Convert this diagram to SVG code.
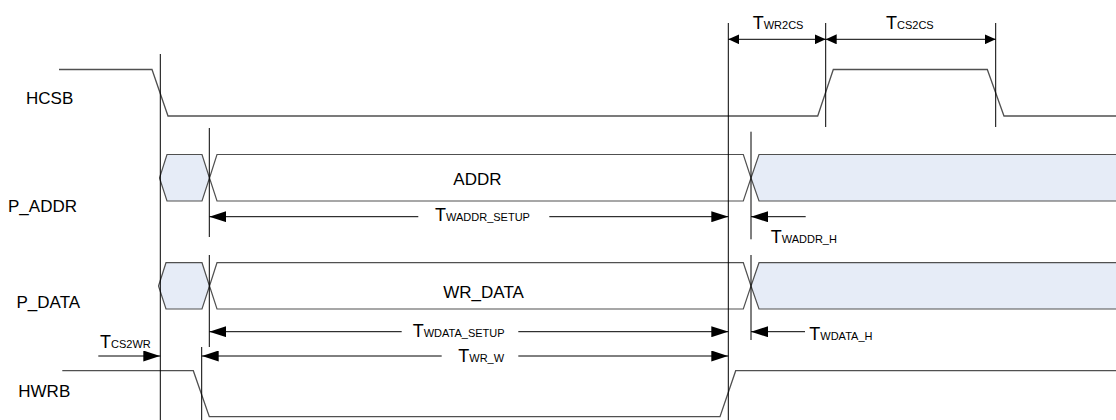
<svg xmlns="http://www.w3.org/2000/svg" width="1116" height="420" viewBox="0 0 1116 420">
<defs>
<style>
.sig{fill:none;stroke:#505050;stroke-width:1.3}
.bus{fill:#fff;stroke:#505050;stroke-width:1.2}
.busb{fill:#E6ECF7;stroke:#505050;stroke-width:1.2}
.vl{stroke:#000;stroke-width:1;fill:none}
.ar{stroke:#000;stroke-width:1;fill:none}
.lbl{font-family:"Liberation Sans",Arial,sans-serif;font-size:17px;fill:#000}
.t{font-family:"Liberation Sans",Arial,sans-serif;font-size:18px;fill:#000}
.s{font-size:11px}
</style>
<marker id="ae" markerUnits="userSpaceOnUse" markerWidth="17" markerHeight="11" refX="17" refY="5.5" orient="auto"><path d="M0,0L17,5.5L0,11z" fill="#000"/></marker>
<marker id="as" markerUnits="userSpaceOnUse" markerWidth="17" markerHeight="11" refX="17" refY="5.5" orient="auto-start-reverse"><path d="M0,0L17,5.5L0,11z" fill="#000"/></marker>
<marker id="te" markerUnits="userSpaceOnUse" markerWidth="11" markerHeight="10" refX="11" refY="5" orient="auto"><path d="M0,0L11,5L0,10z" fill="#000"/></marker>
<marker id="ts" markerUnits="userSpaceOnUse" markerWidth="11" markerHeight="10" refX="11" refY="5" orient="auto-start-reverse"><path d="M0,0L11,5L0,10z" fill="#000"/></marker>
</defs>
<rect width="1116" height="420" fill="#fff"/>

<g id="HCSB">
<text class="lbl" x="26" y="104">HCSB</text>
<path class="sig" d="M59,69.5H152L168,116H817.7L833.3,69.5H987.3L1004,116H1116"/>
</g>

<g id="P_ADDR">
<text class="lbl" x="8" y="212">P_ADDR</text>
<path class="busb" d="M159.5,178L167,154.5H202L209.5,178L202,201H167Z"/>
<path class="bus" d="M209.5,178L217,154.5H743.3L751,178L743.3,201H217Z"/>
<path class="busb" d="M1117,154.5H759L751,178L759,201H1117"/>
<text class="lbl" x="453.3" y="185">ADDR</text>
</g>

<g id="P_DATA">
<text class="lbl" x="16.5" y="307.5">P_DATA</text>
<path class="busb" d="M158.5,286L166,262.7H202L209.5,286L202,309H166Z"/>
<path class="bus" d="M209.5,286L217,262.7H743.3L751,286L743.3,309H217Z"/>
<path class="busb" d="M1117,262.7H759L751,286L759,309H1117"/>
<text class="lbl" x="443.3" y="297.7">WR_DATA</text>
</g>

<g id="HWRB">
<text class="lbl" x="18.3" y="397.3">HWRB</text>
<path class="sig" d="M62.3,370.7H193.3L209.3,416.7H720L735.7,370.7H1116"/>
</g>

<g id="connectors">
<path class="vl" d="M160.3,54V420"/>
<path class="vl" d="M728.3,23V420"/>
<path class="vl" d="M825.7,23V127"/>
<path class="vl" d="M995.7,23V127"/>
<path class="vl" d="M209.3,128V237"/>
<path class="vl" d="M209.3,255V347"/>
<path class="vl" d="M201.7,347V420"/>
<path class="vl" d="M751,131.7V239.3"/>
<path class="vl" d="M751,255V340"/>

<path class="ar" d="M728.3,39.3H825.7" marker-start="url(#ts)" marker-end="url(#te)"/>
<path class="ar" d="M825.7,39.3H995.7" marker-start="url(#ts)" marker-end="url(#te)"/>
<text class="t" x="752.7" y="29.3">T<tspan class="s">WR2CS</tspan></text>
<text class="t" x="886" y="29.3">T<tspan class="s">CS2CS</tspan></text>

<path class="ar" d="M209.3,216.7H418.3" marker-start="url(#as)"/>
<path class="ar" d="M549.3,216.7H728.3" marker-end="url(#ae)"/>
<text class="t" x="435" y="220.7">T<tspan class="s">WADDR_SETUP</tspan></text>

<path class="ar" d="M805.7,216.7H751" marker-end="url(#ae)"/>
<text class="t" x="770.7" y="243.3">T<tspan class="s">WADDR_H</tspan></text>

<path class="ar" d="M209.3,331.7H401.7" marker-start="url(#as)"/>
<path class="ar" d="M518.3,331.7H728.3" marker-end="url(#ae)"/>
<text class="t" x="412.7" y="337.3">T<tspan class="s">WDATA_SETUP</tspan></text>

<path class="ar" d="M805,331.7H751" marker-end="url(#ae)"/>
<text class="t" x="809.3" y="340">T<tspan class="s">WDATA_H</tspan></text>

<path class="ar" d="M201.7,356H441.7" marker-start="url(#as)"/>
<path class="ar" d="M518.3,356H728.3" marker-end="url(#ae)"/>
<text class="t" x="458.3" y="361.7">T<tspan class="s">WR_W</tspan></text>

<path class="ar" d="M98.3,356H160.3" marker-end="url(#ae)"/>
<text class="t" x="100" y="348.3">T<tspan class="s">CS2WR</tspan></text>
</g>
</svg>
